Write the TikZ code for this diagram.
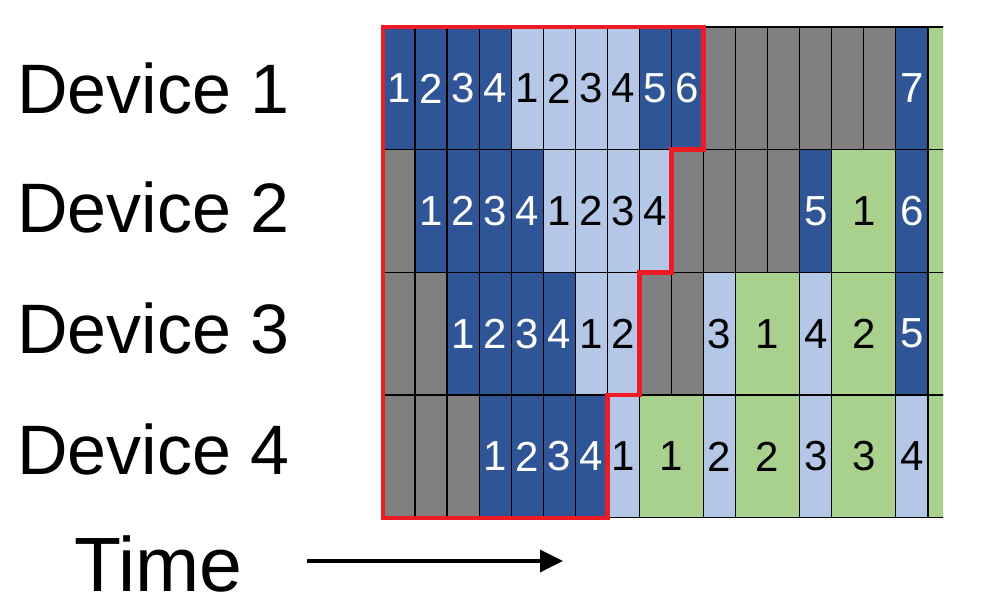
\documentclass[tikz,border=0pt]{standalone}
\usepackage{fontspec}
\setmainfont{Liberation Sans}
\usepackage{tikz}
\usetikzlibrary{arrows.meta,positioning,calc}
\definecolor{fwblue}{HTML}{2F5597}
\definecolor{bwblue}{HTML}{B4C7E7}
\definecolor{idlegray}{HTML}{808080}
\definecolor{optgreen}{HTML}{A9D18E}
\definecolor{bubred}{HTML}{ED1C24}
\tikzset{
  % rutnät
  cell/.style={draw=black,line width=1.3pt,inner sep=0pt,outer sep=0pt,
               minimum height=122.7pt,font=\fontsize{42}{42}\selectfont},
  fw/.style={fill=fwblue,text=white},
  bw/.style={fill=bwblue,text=black},
  idl/.style={fill=idlegray},
  opt/.style={fill=optgreen,text=black},
  frontier/.style={draw=bubred,line width=4.5pt,line join=miter},
  % etiketter
  dev/.style={anchor=base west,inner sep=0pt,font=\fontsize{70}{70}\selectfont},
  timearrow/.style={-{Triangle[length=23pt,width=22pt]},line width=3.6pt},
}

\begin{document}
\begin{tikzpicture}[x=1pt,y=-1pt]
  \useasboundingbox (0,0) rectangle (988,605);
  \node[dev] (d1) at (17,113) {Device 1};
  \node[dev] (d2) at (17,232) {Device 2};
  \node[dev] (d3) at (17,353) {Device 3};
  \node[dev] (d4) at (17,474) {Device 4};
  \begin{scope}
  \clip (370,0) rectangle (943,605);
  \foreach \c/\w/\s/\t in {0/1/fw/1,1/1/fw/2,2/1/fw/3,3/1/fw/4,4/1/bw/1,5/1/bw/2,
      6/1/bw/3,7/1/bw/4,8/1/fw/5,9/1/fw/6,10/1/idl/,11/1/idl/,12/1/idl/,
      13/1/idl/,14/1/idl/,15/1/idl/,16/1/fw/7,17/1/opt/}
    \node[cell,\s,minimum width=\w*32.05pt] (r1c\c) at ({383+32.05*(\c+\w/2)},88.35) {\t};
  \foreach \c/\w/\s/\t in {0/1/idl/,1/1/fw/1,2/1/fw/2,3/1/fw/3,4/1/fw/4,5/1/bw/1,
      6/1/bw/2,7/1/bw/3,8/1/bw/4,9/1/idl/,10/1/idl/,11/1/idl/,12/1/idl/,
      13/1/fw/5,14/2/opt/1,16/1/fw/6,17/1/opt/}
    \node[cell,\s,minimum width=\w*32.05pt] (r2c\c) at ({383+32.05*(\c+\w/2)},211.05) {\t};
  \foreach \c/\w/\s/\t in {0/1/idl/,1/1/idl/,2/1/fw/1,3/1/fw/2,4/1/fw/3,5/1/fw/4,
      6/1/bw/1,7/1/bw/2,8/1/idl/,9/1/idl/,10/1/bw/3,11/2/opt/1,13/1/bw/4,
      14/2/opt/2,16/1/fw/5,17/1/opt/}
    \node[cell,\s,minimum width=\w*32.05pt] (r3c\c) at ({383+32.05*(\c+\w/2)},333.75) {\t};
  \foreach \c/\w/\s/\t in {0/1/idl/,1/1/idl/,2/1/idl/,3/1/fw/1,4/1/fw/2,5/1/fw/3,
      6/1/fw/4,7/1/bw/1,8/2/opt/1,10/1/bw/2,11/2/opt/2,13/1/bw/3,14/2/opt/3,
      16/1/bw/4,17/1/opt/}
    \node[cell,\s,minimum width=\w*32.05pt] (r4c\c) at ({383+32.05*(\c+\w/2)},456.45) {\t};
  \end{scope}
  \draw[frontier] (r1c0.north west) -| (r1c9.south east) -| (r2c8.south east)
    -| (r3c7.south east) -| (r4c6.south east) -- (r4c0.south west) -- cycle;
  \node[dev,font=\fontsize{77}{77}\selectfont] (time) at (74,591) {Time};
  \coordinate (t0) at (307,561);
  \coordinate (t1) at (563,561);
  \draw[timearrow] (t0) -- (t1);
\end{tikzpicture}
\end{document}
